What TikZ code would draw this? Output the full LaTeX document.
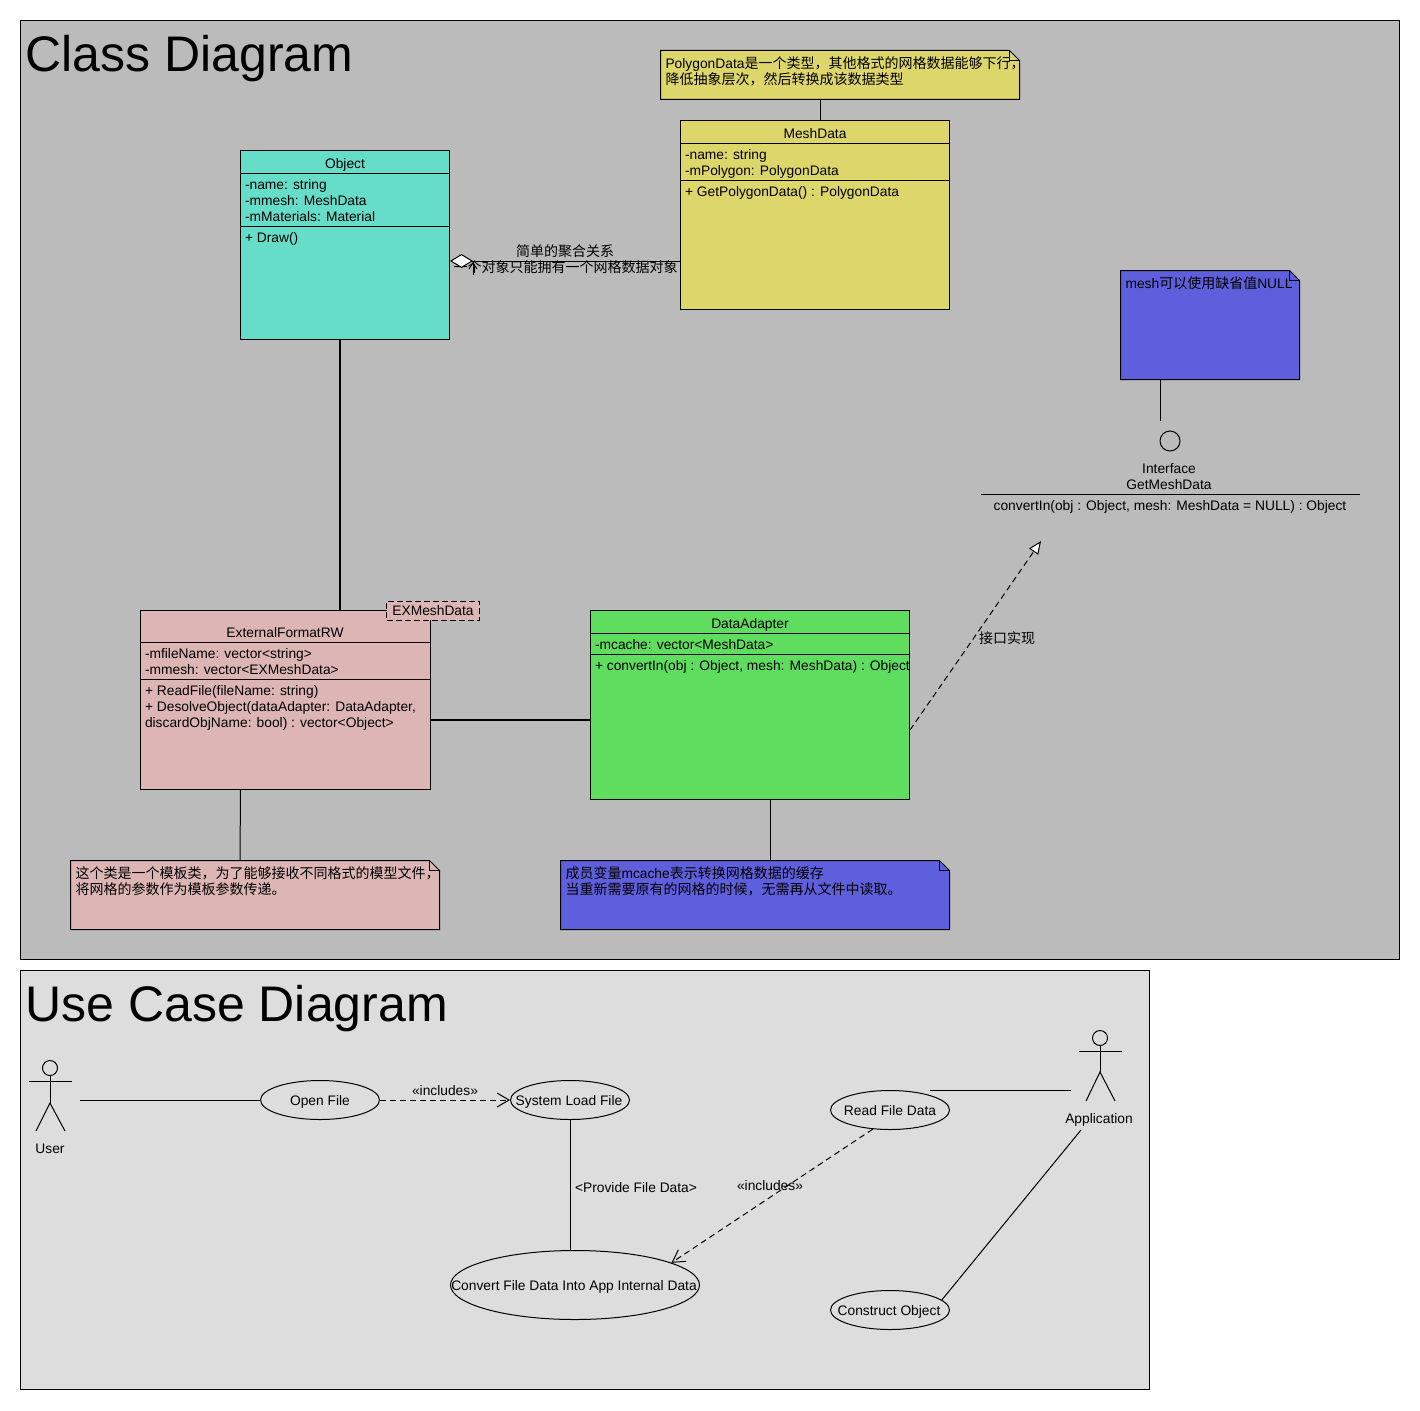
\documentclass[tikz,border=0pt]{standalone}
\usepackage{fontspec}
\setmainfont{Liberation Sans}
\newfontfamily\cjk[Scale=1.0145]{Noto Sans CJK SC}
\newcommand{\zh}[1]{{\cjk #1}}
\usepackage{tikz}
\usetikzlibrary{arrows.meta,shapes.geometric}

\definecolor{framegray}{HTML}{BBBBBB}
\definecolor{usegray}{HTML}{DDDDDD}
\definecolor{tealfill}{HTML}{66DDC8}
\definecolor{yellowfill}{HTML}{DDD66B}
\definecolor{pinkfill}{HTML}{DDB5B5}
\definecolor{greenfill}{HTML}{5FDD5F}
\definecolor{bluefill}{HTML}{5F5FDD}

\tikzset{
  every node/.style={font=\fontsize{13.8}{16}\selectfont,inner sep=0pt},
  framebox/.style={draw,rectangle,inner sep=0pt},
  classbox/.style={draw,rectangle,inner sep=0pt},
  notebox/.style={rectangle,inner sep=0pt,outer sep=0pt},
  usecase/.style={draw,ellipse,inner sep=0pt},
  members/.style={anchor=north west,align=left},
  single/.style={text height=10pt,text depth=0pt},
  heading/.style={anchor=west,font=\fontsize{50}{56}\selectfont},
  thickline/.style={line width=2pt},
  includes/.style={dashed,dash pattern=on 6pt off 4pt,-{Straight Barb[length=12pt,width=14pt]}},
}

% folded corner for the notes
\newcommand{\notefold}[2]{
  \draw[fill=#2] (#1.south west) -- (#1.north west) -- ([xshift=-10pt]#1.north east) -- ([yshift=-10pt]#1.north east) -- (#1.south east) -- cycle;
  \draw ([xshift=-10pt]#1.north east) -- ([xshift=-10pt,yshift=-10pt]#1.north east) -- ([yshift=-10pt]#1.north east);
}

\begin{document}
\begin{tikzpicture}[x=1pt,y=-1pt,line width=1pt]
\useasboundingbox (0,0) rectangle (1420,1410);

\node[framebox,fill=framegray,minimum width=1379pt,minimum height=939pt] (classframe) at (710,490) {};
\node[framebox,fill=usegray,minimum width=1129pt,minimum height=419pt] (useframe) at (585,1180) {};
\node[heading] (classtitle) at (25,59) {Class Diagram};
\node[heading] (usetitle) at (25,1009) {Use Case Diagram};

\node[classbox,fill=tealfill,minimum width=209pt,minimum height=189pt] (object) at (345,245) {};
\draw (object.west |- 0,173.5) -- (object.east |- 0,173.5);
\draw (object.west |- 0,226.5) -- (object.east |- 0,226.5);
\node[single] (objectname) at (345,163) {Object};
\node[members] (objectattrs) at (244.5,178.5) {-name: string\\-mmesh: MeshData\\-mMaterials: Material};
\node[members] (objectops) at (244.5,231.5) {+ Draw()};

\node[classbox,fill=yellowfill,minimum width=269pt,minimum height=189pt] (meshdata) at (815,215) {};
\draw (meshdata.west |- 0,143.5) -- (meshdata.east |- 0,143.5);
\draw (meshdata.west |- 0,180.5) -- (meshdata.east |- 0,180.5);
\node[single] (meshname) at (815,133) {MeshData};
\node[members] (meshattrs) at (684.5,148.5) {-name: string\\-mPolygon: PolygonData};
\node[members] (meshops) at (684.5,185.5) {+ GetPolygonData() : PolygonData};

\node[notebox,minimum width=359pt,minimum height=49pt] (polynote) at (840,75) {};
\notefold{polynote}{yellowfill}
\node[members] (polytext) at (665,56) {PolygonData\zh{是一个类型，其他格式的网格数据能够下行，}\\\zh{降低抽象层次，然后转换成该数据类型}};
\draw ([xshift=-20pt]polynote.south) -- ([xshift=5pt]meshdata.north);

\node[classbox,fill=pinkfill,minimum width=290pt,minimum height=179pt] (externalrw) at (285.5,700) {};
\draw (externalrw.west |- 0,642.5) -- (externalrw.east |- 0,642.5);
\draw (externalrw.west |- 0,679.5) -- (externalrw.east |- 0,679.5);
\node[single] (externalname) at (285,632) {ExternalFormatRW};
\node[members] (externalattrs) at (144.5,647.5) {-mfileName: vector<string>\\-mmesh: vector<EXMeshData>};
\node[members] (externalops) at (144.5,684.5) {+ ReadFile(fileName: string)\\+ DesolveObject(dataAdapter: DataAdapter,\\discardObjName: bool) : vector<Object>};
\node[classbox,dashed,dash pattern=on 6pt off 3pt,fill=pinkfill,minimum width=93pt,minimum height=19pt,single] (templatebox) at (433,610.5) {EXMeshData};

\node[classbox,fill=greenfill,minimum width=319pt,minimum height=189pt] (dataadapter) at (750,705) {};
\draw (dataadapter.west |- 0,633.5) -- (dataadapter.east |- 0,633.5);
\draw (dataadapter.west |- 0,654.5) -- (dataadapter.east |- 0,654.5);
\node[single] (adaptername) at (750,623) {DataAdapter};
\node[members] (adapterattrs) at (594.5,638.5) {-mcache: vector<MeshData>};
\node[members] (adapterops) at (594.5,659.5) {+ convertIn(obj : Object, mesh: MeshData) : Object};

\node[notebox,minimum width=369pt,minimum height=69pt] (templatenote) at (255,895) {};
\notefold{templatenote}{pinkfill}
\node[members] (templatetext) at (75,866) {\zh{这个类是一个模板类，为了能够接收不同格式的模型文件，}\\\zh{将网格的参数作为模板参数传递。}};

\node[notebox,minimum width=389pt,minimum height=69pt] (cachenote) at (755,895) {};
\notefold{cachenote}{bluefill}
\node[members] (cachetext) at (565,866) {\zh{成员变量}mcache\zh{表示转换网格数据的缓存}\\\zh{当重新需要原有的网格的时候，无需再从文件中读取。}};

\node[notebox,minimum width=179pt,minimum height=109pt] (nullnote) at (1210,325) {};
\notefold{nullnote}{bluefill}
\node[members] (nulltext) at (1125,276) {mesh\zh{可以使用缺省值}NULL};

\node[draw,circle,minimum size=20pt] (iface) at (1170,441) {};
\coordinate (ifacetop) at (1160,421);
\node (ifacelabel) at (1169,478) {\begin{tabular}{@{}c@{}}Interface\\GetMeshData\end{tabular}};
\coordinate (ifaceleft) at (981,494.5);
\coordinate (ifaceright) at (1360,494.5);
\draw (ifaceleft) -- (ifaceright);
\node[single] (ifaceop) at (1170,505) {convertIn(obj : Object, mesh: MeshData = NULL) : Object};
\coordinate (ifacetip) at (1041,541);

\draw[thickline] ([xshift=-5pt]object.south) -- ([xshift=54.5pt]externalrw.north);
\draw[thickline] ([yshift=-20pt]externalrw.east) -- ([yshift=-15pt]dataadapter.west);
\draw ([xshift=-45pt]externalrw.south) -- ([xshift=-15pt]templatenote.north);
\draw ([xshift=20pt]dataadapter.south) -- ([xshift=15pt]cachenote.north);
\draw ([xshift=-50pt]nullnote.south) -- (ifacetop);

\node (aggtop) at (565,251) {\zh{简单的聚合关系}};
\node (aggbottom) at (565.5,267) {\zh{一个对象只能拥有一个网格数据对象}};
\draw[{Diamond[fill=white,length=23pt,width=14pt]}-] ([yshift=-16pt]object.east) -- ([yshift=-46pt]meshdata.west);
\coordinate (aggfoot) at (473,275);
\coordinate (agghead) at (473,262);
\draw[-{Straight Barb[length=6pt,width=8pt]}] (aggfoot) -- (agghead);

\draw[dashed,dash pattern=on 6pt off 4pt,-{Triangle[fill=white,length=13pt,width=11pt]}] ([yshift=-25pt]dataadapter.east) -- (ifacetip);
\node (realizelabel) at (1007,638) {\zh{接口实现}};

\node[usecase,minimum width=119pt,minimum height=39pt] (openfile) at (320,1100) {};
\node[single] (openlabel) at (320,1100) {Open File};
\node[usecase,minimum width=119pt,minimum height=39pt] (loadfile) at (570,1100) {};
\node[single] (loadlabel) at (569,1100) {System Load File};
\node[usecase,minimum width=249pt,minimum height=69pt] (convertdata) at (575,1285) {};
\node[single] (convertlabel) at (574,1285) {Convert File Data Into App Internal Data};
\node[usecase,minimum width=119pt,minimum height=39pt] (readfile) at (890,1110) {};
\node[single] (readlabel) at (890,1110) {Read File Data};
\node[usecase,minimum width=119pt,minimum height=39pt] (constructobj) at (890,1310) {};
\node[single] (constructlabel) at (889,1310) {Construct Object};

% user actor
\node[draw,circle,minimum size=15pt] (userhead) at (50,1068) {};
\coordinate (userhip) at (50,1103);
\draw (userhead) -- (userhip);
\draw (29,1081) -- (72,1081);
\draw (36,1131) -- (userhip) -- (65,1131);
\node[single] (username) at (50,1148) {User};
\coordinate (userend) at (80,1100);

% application actor
\node[draw,circle,minimum size=15pt] (apphead) at (1100,1038) {};
\coordinate (apphip) at (1100,1072);
\draw (apphead) -- (apphip);
\draw (1079,1051) -- (1122,1051);
\draw (1086,1101) -- (apphip) -- (1115,1101);
\node[single] (appname) at (1099,1118) {Application};
\coordinate (appreadend) at (1071,1090);
\coordinate (readend) at (930,1090);
\coordinate (appbottom) at (1081,1130);

\draw (userend) -- (openfile);
\draw[includes] (openfile) -- (loadfile);
\node (includesone) at (445,1091) {«includes»};
\draw (loadfile.south) -- (loadfile.south |- convertdata.north);
\node (providelabel) at (636,1188) {<Provide File Data>};
\draw[includes] (readfile.228) -- (convertdata.13);
\node (includestwo) at (770,1186) {«includes»};
\draw (readend) -- (appreadend);
\draw (appbottom) -- (constructobj.11);
\end{tikzpicture}
\end{document}
